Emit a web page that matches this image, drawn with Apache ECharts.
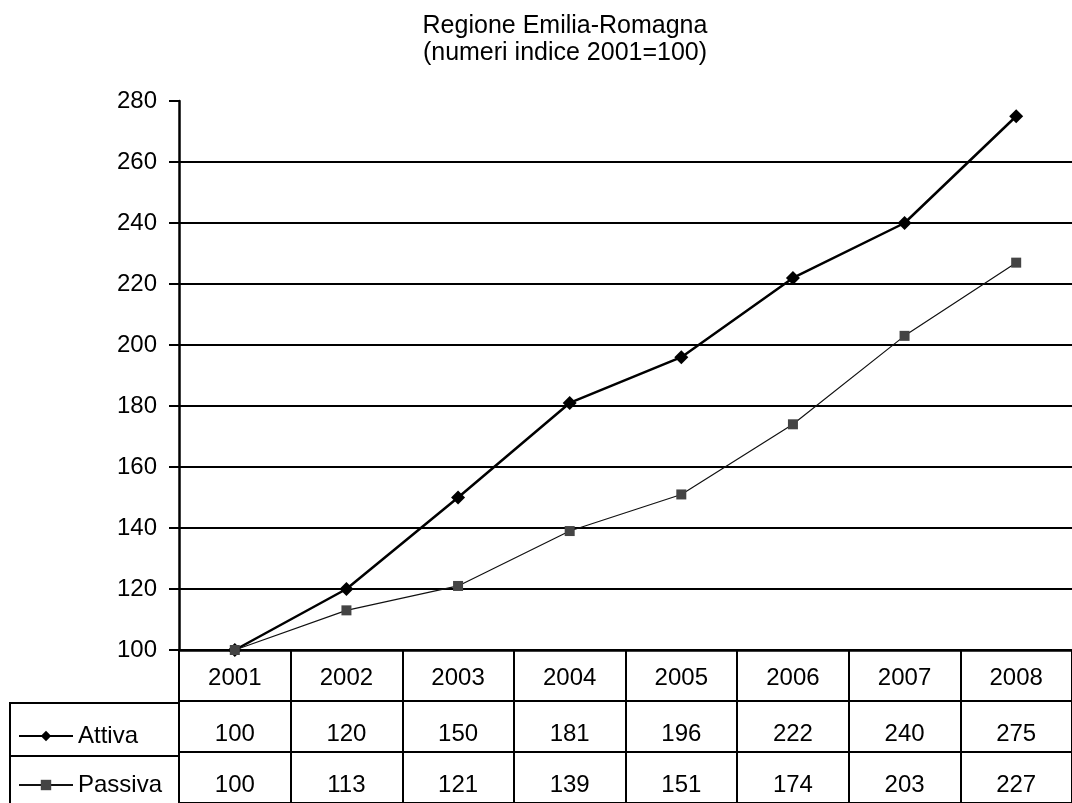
<!DOCTYPE html>
<html>
<head>
<meta charset="utf-8">
<script src="https://cdn.jsdelivr.net/npm/echarts@6/dist/echarts.min.js"></script>
<style>
html,body{margin:0;padding:0;background:#fff;}
#chart{width:1072px;height:803px;}
</style>
</head>
<body>
<div id="chart"></div>
<script>
const years = ['2001','2002','2003','2004','2005','2006','2007','2008'];
const attiva = [100,120,150,181,196,222,240,275];
const passiva = [100,113,121,139,151,174,203,227];
const seriesNames = ['Attiva','Passiva'];
const yTicks = {min:100, max:280, interval:20};

const FONT = '"Liberation Sans", Arial, sans-serif';
const chart = echarts.init(document.getElementById('chart'));

const tableData = [];
years.forEach((y,i)=>{
  tableData.push([i, seriesNames[0], attiva[i]]);
  tableData.push([i, seriesNames[1], passiva[i]]);
});

const splitColors = [];
for (let v = yTicks.min; v <= yTicks.max; v += yTicks.interval) {
  splitColors.push(v === yTicks.max ? 'rgba(0,0,0,0)' : '#000');
}

const option = {
  animation:false,
  backgroundColor:'#fff',
  textStyle:{fontFamily:FONT},
  title:{
    text:'Regione Emilia-Romagna\n(numeri indice 2001=100)',
    left:560, top:8, textAlign:'center',
    textStyle:{fontFamily:FONT, fontSize:25, fontWeight:'normal', color:'#000', lineHeight:27}
  },
  legend:{
    data:seriesNames,
    orient:'vertical',
    left:18, top:724, height:90, padding:0,
    itemWidth:54, itemHeight:13, itemGap:25,
    selectedMode:false,
    textStyle:{fontFamily:FONT, fontSize:24, color:'#000', lineHeight:24}
  },
  grid:[
    {left:179, right:-9, top:101, height:549},
    {left:179, right:-9, top:650, height:159}
  ],
  xAxis:[
    {type:'category', gridIndex:0, data:years, boundaryGap:true,
     axisLine:{lineStyle:{color:'#000', width:2.5}},
     axisTick:{show:false},
     axisLabel:{fontFamily:FONT, fontSize:24, color:'#000', margin:16},
     splitLine:{show:false}},
    {type:'category', gridIndex:1, data:years, boundaryGap:true,
     axisLine:{show:false}, axisTick:{show:false}, axisLabel:{show:false},
     splitLine:{show:true, lineStyle:{color:'#000', width:2}}}
  ],
  yAxis:[
    {type:'value', gridIndex:0, min:yTicks.min, max:yTicks.max, interval:yTicks.interval,
     axisLine:{show:true, lineStyle:{color:'#000', width:2.5}},
     axisTick:{show:true, length:10, lineStyle:{color:'#000', width:2}},
     axisLabel:{fontFamily:FONT, fontSize:24, color:'#000', margin:22},
     splitLine:{show:true, lineStyle:{color:splitColors, width:2}}},
    {type:'category', gridIndex:1, data:['', seriesNames[0], seriesNames[1]], inverse:true,
     axisLine:{show:true, lineStyle:{color:'#000', width:2}},
     axisTick:{show:false}, axisLabel:{show:false},
     splitLine:{show:true, lineStyle:{color:'#000', width:2}}}
  ],
  graphic:[
    {type:'polyline', shape:{points:[[179,703],[10,703],[10,812]]}, style:{stroke:'#000', lineWidth:2, fill:null}},
    {type:'line', shape:{x1:10,y1:756,x2:179,y2:756}, style:{stroke:'#000', lineWidth:2}}
  ],
  series:[
    {name:seriesNames[0], type:'line', xAxisIndex:0, yAxisIndex:0, data:attiva,
     symbol:'diamond', symbolSize:14,
     lineStyle:{color:'#000', width:2.5}, itemStyle:{color:'#000'}},
    {name:seriesNames[1], type:'line', xAxisIndex:0, yAxisIndex:0, data:passiva,
     symbol:'rect', symbolSize:10,
     lineStyle:{color:'#111', width:1.2}, itemStyle:{color:'#444'}},
    {type:'scatter', xAxisIndex:1, yAxisIndex:1, data:tableData,
     symbolSize:0, silent:true, itemStyle:{opacity:1},
     label:{show:true, position:'inside', offset:[0,8], formatter:p=>p.value[2],
            fontFamily:FONT, fontSize:24, color:'#000', opacity:1}}
  ]
};
chart.setOption(option);
</script>
</body>
</html>
